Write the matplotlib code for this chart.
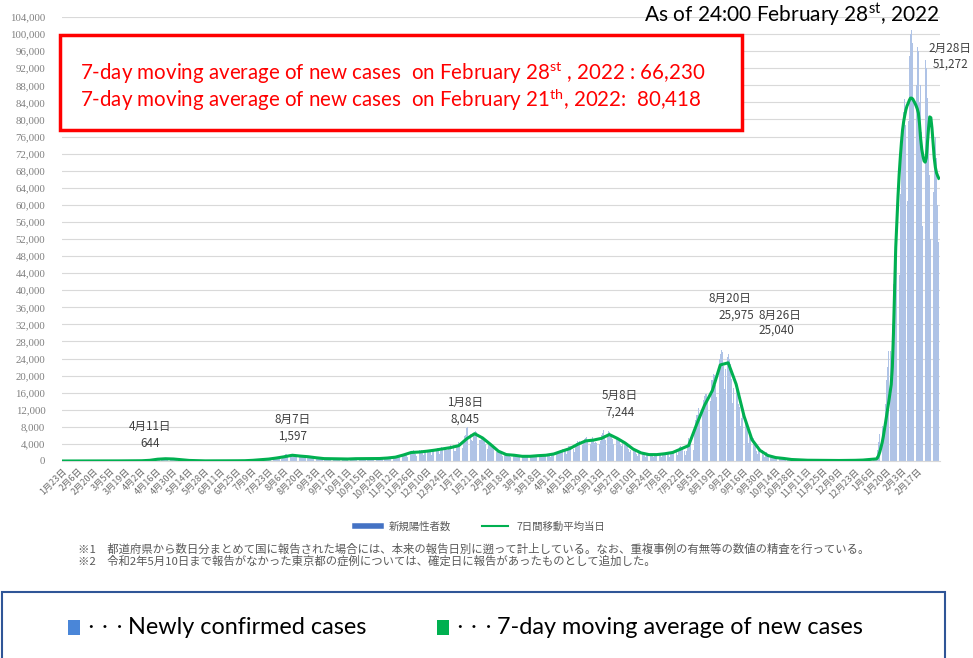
import matplotlib
matplotlib.use("Agg")
import matplotlib.pyplot as plt
import pandas as pd
from matplotlib.patches import Rectangle
from matplotlib.lines import Line2D
from matplotlib.transforms import ScaledTranslation

# daily new cases, one list per month
c2020_01 = [1, 0, 0, 0, 0, 0, 0, 1, 1, 1, 0, 1, 1, 3, 4, 2]
c2020_02 = [1, 0, 0, 0, 0, 0, 1, 1, 0, 0, 1, 1, 3, 12, 8, 5, 6, 4, 9, 6, 13, 10, 15, 11, 12, 23, 21, 13, 9]
c2020_03 = [14, 18, 14, 20, 33, 35, 59, 33, 26, 54, 52, 56, 62, 64, 24, 15, 44, 39, 40, 30, 47, 37, 40, 65, 96,
            93, 98, 194, 72, 83, 225]
c2020_04 = [220, 255, 340, 370, 380, 250, 300, 500, 560, 600, 644, 510, 390, 450, 550, 490, 610, 590, 560, 370,
            360, 410, 430, 430, 340, 240, 210, 260, 230, 210]
c2020_05 = [190, 170, 200, 120, 90, 120, 90, 90, 100, 70, 70, 80, 50, 90, 60, 70, 30, 30, 30, 30, 35, 20, 40, 30,
            15, 30, 40, 40, 35, 30, 35]
c2020_06 = [30, 40, 45, 40, 45, 50, 40, 35, 40, 40, 50, 60, 50, 70, 80, 70, 40, 40, 70, 70, 60, 40, 60, 60, 80,
            100, 95, 90, 90, 80]
c2020_07 = [110, 170, 200, 270, 250, 190, 220, 290, 360, 420, 380, 390, 290, 340, 450, 620, 660, 580, 500, 440,
            630, 800, 980, 780, 840, 840, 580, 980, 1260, 1300, 1580]
c2020_08 = [1530, 1330, 950, 1240, 1350, 1480, 1597, 1560, 1430, 1070, 720, 970, 1180, 1360, 1200, 1040, 950, 780,
            1070, 1160, 960, 1050, 880, 620, 580, 810, 850, 780, 720, 570, 430]
c2020_09 = [580, 620, 570, 630, 550, 500, 270, 370, 520, 590, 660, 590, 470, 300, 410, 580, 530, 610, 530, 430,
            220, 240, 480, 580, 550, 620, 480, 300, 570, 600]
c2020_10 = [490, 530, 560, 480, 300, 490, 570, 620, 640, 570, 430, 600, 710, 640, 530, 510, 560, 440, 530, 470,
            660, 620, 740, 770, 630, 520, 630, 790, 740, 690, 760]
c2020_11 = [600, 400, 770, 870, 1050, 1130, 1320, 1150, 960, 1200, 1550, 1660, 1710, 1730, 1430, 950, 1700, 2190,
            2390, 2420, 2590, 2160, 1530, 1230, 1850, 2530, 2390, 2680, 2040, 1430]
c2020_12 = [2030, 2430, 2520, 2440, 2510, 2030, 1520, 2040, 2810, 2970, 2780, 3040, 2390, 1690, 2400, 3200, 3030,
            2990, 2990, 2470, 2620, 3390, 3250, 3740, 3800, 3800, 2330, 2400, 3590, 3800, 4520]
c2021_01 = [3250, 3060, 3140, 4900, 5920, 6000, 7840, 8045, 7500, 6300, 4900, 4600, 5800, 6600, 7100, 6700, 5700,
            4900, 5000, 5600, 5300, 5000, 4700, 3990, 2760, 3850, 3960, 3690, 3600, 3400, 3200]
c2021_02 = [2000, 2100, 2600, 2570, 2370, 2280, 1670, 1220, 1560, 1700, 1570, 1360, 1470, 1360, 1020, 1300, 1530,
            1310, 1240, 1320, 1110, 900, 1050, 1110, 1100, 1140, 1050, 990]
c2021_03 = [860, 1050, 1280, 1250, 1160, 1060, 1060, 1140, 1340, 1300, 1320, 1480, 1360, 1000, 1040, 1360, 1380,
            1500, 1470, 1370, 1300, 980, 1400, 1900, 1920, 2020, 2080, 1780, 1570, 2310, 2570]
c2021_04 = [2480, 2750, 2870, 2450, 1580, 2650, 3450, 3450, 3450, 3700, 2770, 2100, 3450, 4310, 4570, 4530, 4800,
            4090, 3700, 4300, 5100, 5500, 5600, 5000, 4600, 4000, 4800, 5600, 4900, 4200]
c2021_05 = [4400, 4200, 4400, 4000, 4800, 6000, 6600, 7244, 6200, 4900, 6200, 7000, 6800, 6300, 6300, 5100, 4000,
            5100, 5700, 5100, 4700, 4600, 4000, 3400, 4300, 4800, 4500, 3900, 3700, 2700, 2100]
c2021_06 = [2600, 3000, 2600, 2500, 2400, 1600, 1200, 2000, 2200, 1950, 1900, 1900, 1400, 940, 1300, 1600, 1700,
            1500, 1600, 1100, 1000, 1400, 1600, 1700, 1600, 1600, 1300, 1000, 1500, 1800]
c2021_07 = [1750, 1880, 1800, 1580, 1010, 1660, 2190, 2250, 2240, 2410, 2230, 1500, 2390, 3180, 3420, 3370, 3100,
            2330, 1430, 2380, 3760, 5400, 4220, 3880, 4700, 2640, 7600, 9570, 10700, 10780, 12340]
c2021_08 = [10160, 8380, 12010, 14220, 15250, 15750, 15740, 14470, 12070, 14100, 18880, 18890, 20360, 20150, 17730,
            14940, 19910, 23890, 25150, 25975, 25490, 22200, 16830, 21560, 24300, 25040, 24000, 22760, 19300, 13600,
            17000]
c2021_09 = [20000, 16750, 16130, 13420, 12620, 8200, 10130, 12380, 10380, 9760, 8140, 7220, 4150, 6230, 6170, 5690,
            5450, 4500, 3650, 2300, 1660, 3560, 3100, 2200, 2500, 1480, 900, 1450, 2040, 1550]
c2021_10 = [1430, 1150, 1000, 620, 1140, 1070, 940, 800, 770, 610, 390, 620, 730, 630, 620, 510, 430, 250, 370, 390,
            350, 350, 310, 230, 160, 240, 270, 290, 280, 260, 160]
c2021_11 = [90, 180, 170, 180, 210, 210, 160, 100, 180, 230, 210, 200, 180, 130, 80, 130, 140, 140, 140, 140, 120,
            50, 80, 80, 90, 130, 140, 110, 80, 150]
c2021_12 = [120, 110, 130, 120, 110, 70, 80, 130, 170, 150, 140, 120, 90, 130, 170, 210, 180, 180, 190, 140, 200,
            240, 270, 290, 260, 240, 250, 380, 480, 470, 500]
c2022_01 = [530, 550, 780, 1260, 2640, 4470, 6210, 8470, 8250, 6440, 6380, 13240, 18860, 22050, 25740, 25660, 21500,
            32200, 41480, 46190, 49850, 54580, 50000, 43600, 62600, 71600, 78900, 81700, 84900, 78700, 61000]
c2022_02 = [79600, 94900, 100000, 101000, 98000, 84000, 65000, 88000, 97000, 96000, 84000, 88000, 77000, 55000,
            80000, 94000, 92000, 85000, 79000, 67000, 52000, 66000, 63000, 71000, 76000, 71000, 60000, 51272]

# 7-day moving average: weekly readings from 2020-01-16 to 2021-12-30, then daily for 2022
avg_weekly = [0, 0.3, 1, 1, 2, 8, 14, 25, 45, 40,
              60, 160, 420, 530, 470, 290, 130, 75, 30, 30,
              40, 45, 55, 70, 160, 300, 450, 700, 1000, 1350,
              1150, 1000, 760, 560, 520, 500, 470, 540, 560, 580,
              580, 700, 900, 1400, 2000, 2100, 2300, 2550, 2850, 3150,
              3600, 5200, 6400, 5400, 3900, 2300, 1500, 1350, 1100, 1100,
              1250, 1350, 1650, 2300, 2900, 3900, 4700, 4900, 5300, 6200,
              5300, 4200, 2800, 1900, 1500, 1500, 1700, 2000, 2800, 3600,
              8500, 13000, 16500, 22500, 23000, 18000, 10500, 5000, 2500, 1300,
              800, 600, 350, 260, 180, 160, 130, 110, 120, 130,
              160, 220, 370]
avg_2022_01 = [400, 420, 450, 500, 800, 1400, 2200, 3200, 4300, 5700, 7300, 9000, 10700, 12400, 14200, 16000,
               17900, 22000, 30000, 40000, 50000, 56000, 62000, 67000, 71000, 74500, 77500, 79500, 81000, 82300,
               83200]
avg_2022_02 = [83800, 84500, 85000, 85000, 84800, 84300, 83800, 83200, 82500, 81500, 79000, 75500, 73000, 71500,
               70300, 70000, 71000, 74500, 78000, 80600, 80418, 78000, 74500, 71000, 68800, 67500, 66800, 66230]

# peak labels
peak_labels = ["4月11日\n644", "8月7日\n1,597", "1月8日\n8,045", "5月8日\n7,244"]
peak_pos = [(150, 435), (293, 428), (465, 411), (620, 404)]

months = [("2020-01-16", c2020_01), ("2020-02-01", c2020_02), ("2020-03-01", c2020_03), ("2020-04-01", c2020_04),
          ("2020-05-01", c2020_05), ("2020-06-01", c2020_06), ("2020-07-01", c2020_07), ("2020-08-01", c2020_08),
          ("2020-09-01", c2020_09), ("2020-10-01", c2020_10), ("2020-11-01", c2020_11), ("2020-12-01", c2020_12),
          ("2021-01-01", c2021_01), ("2021-02-01", c2021_02), ("2021-03-01", c2021_03), ("2021-04-01", c2021_04),
          ("2021-05-01", c2021_05), ("2021-06-01", c2021_06), ("2021-07-01", c2021_07), ("2021-08-01", c2021_08),
          ("2021-09-01", c2021_09), ("2021-10-01", c2021_10), ("2021-11-01", c2021_11), ("2021-12-01", c2021_12),
          ("2022-01-01", c2022_01), ("2022-02-01", c2022_02)]

dias = []
casos = []
for inicio, vals in months:
    dias += list(pd.date_range(inicio, periods=len(vals), freq="D"))
    casos += vals

avg_dias = list(pd.date_range("2020-01-16", periods=len(avg_weekly), freq="7D"))
avg_dias += list(pd.date_range("2022-01-01", periods=len(avg_2022_01), freq="D"))
avg_dias += list(pd.date_range("2022-02-01", periods=len(avg_2022_02), freq="D"))
avg_vals = avg_weekly + avg_2022_01 + avg_2022_02

W, H = 973, 658


def px(x, y):
    return x / W, 1 - y / H


plt.rcParams["mathtext.fontset"] = "custom"
plt.rcParams["mathtext.rm"] = "Lato"
plt.rcParams["mathtext.it"] = "Lato:italic"
plt.rcParams["mathtext.bf"] = "Lato:bold"

fig = plt.figure(figsize=(W / 100, H / 100), dpi=100)
ax = fig.add_axes([62 / W, 1 - 461 / H, 878 / W, 444 / H])

ax.bar(dias, casos, width=0.8, color="#afc3e6", linewidth=0, zorder=2)
ax.plot(avg_dias, avg_vals, color="#00b050", lw=2.2, zorder=3)

ax.set_ylim(0, 104000)
yt = list(range(0, 104001, 4000))
ax.set_yticks(yt)
ax.set_yticklabels([f"{v:,}" for v in yt], family="Liberation Serif", fontsize=7.8, color="#808080")
ax.set_xlim(pd.Timestamp("2020-01-15 12:00"), pd.Timestamp("2020-01-15 12:00") + pd.Timedelta(days=775.6))
ticks = pd.date_range("2020-01-23", "2022-02-28", freq="14D")
ax.set_xticks(ticks)
ax.set_xticklabels([f"{d.month}月{d.day}日" for d in ticks], rotation=45, ha="right", rotation_mode="anchor",
                   fontsize=6.6, family="Noto Sans CJK JP", color="#6f6f6f")
ax.tick_params(axis="x", length=0, pad=4)
ax.tick_params(axis="y", length=0, pad=12)
for lab in ax.get_xticklabels():
    lab.set_transform(lab.get_transform() + ScaledTranslation(-6 / 72, 0, fig.dpi_scale_trans))
ax.grid(axis="y", color="#d9d9d9", lw=0.8)
ax.set_axisbelow(True)
for s in ["top", "right", "left"]:
    ax.spines[s].set_visible(False)
ax.spines["bottom"].set_color("#d9d9d9")

jp = {"family": "Noto Sans CJK JP", "fontsize": 8.4, "color": "#404040", "ha": "center", "va": "center",
      "linespacing": 1.4}
for lab, (x, y) in zip(peak_labels, peak_pos):
    fig.text(*px(x, y), lab, **jp)
fig.text(*px(730, 298), "8月20日", **jp)
fig.text(*px(736, 315), "25,975", **jp)
fig.text(*px(780, 315), "8月26日", **jp)
fig.text(*px(776, 330), "25,040", **jp)
fig.text(*px(950, 48), "2月28日", **jp)
fig.text(*px(951, 64), "51,272", **jp)

# in-chart legend
fig.legend(handles=[Line2D([0], [0], color="#4472c4", lw=4), Line2D([0], [0], color="#00b050", lw=1.5)],
           labels=["新規陽性者数", "7日間移動平均当日"], loc="center", bbox_to_anchor=px(480, 527), ncol=2,
           frameon=False, prop={"family": "Noto Sans CJK JP", "size": 7.5}, handlelength=2.5, columnspacing=3,
           labelcolor="#595959")

nota = {"family": "Noto Sans CJK JP", "fontsize": 8.2, "color": "#595959", "va": "center"}
fig.text(*px(78, 549), "※1　都道府県から数日分まとめて国に報告された場合には、本来の報告日別に遡って計上している。"
         "なお、重複事例の有無等の数値の精査を行っている。", **nota)
fig.text(*px(78, 561), "※2　令和2年5月10日まで報告がなかった東京都の症例については、確定日に報告があったものとして追加した。",
         **nota)

# top-right date
fig.text(*px(940, 15), r"As of 24:00 February 28$^{\mathrm{st}}$, 2022", fontsize=15, family="Lato",
         ha="right", va="center")

# red box
fig.add_artist(Rectangle(px(60, 130), 682 / W, 95 / H, transform=fig.transFigure, facecolor="white",
                         edgecolor="#ff0000", lw=2.5, zorder=5))
roja = {"fontsize": 14.8, "family": "Lato", "color": "#ff0000", "va": "center", "zorder": 6}
fig.text(*px(80, 73), r"7-day moving average of new cases  on February 28$^{\mathrm{st}}$ , 2022 : 66,230", **roja)
fig.text(*px(80, 100), r"7-day moving average of new cases  on February 21$^{\mathrm{th}}$, 2022:  80,418", **roja)

# bottom legend box
fig.add_artist(Rectangle(px(2, 670), 943 / W, 78 / H, transform=fig.transFigure, facecolor="white",
                         edgecolor="#2f5597", lw=1.5, zorder=5))
fig.add_artist(Rectangle(px(68, 635), 12 / W, 15 / H, transform=fig.transFigure, facecolor="#4a86d8",
                         lw=0, zorder=6))
fig.add_artist(Rectangle(px(437, 635), 12 / W, 15 / H, transform=fig.transFigure, facecolor="#00b050",
                         lw=0, zorder=6))
puntos = {"fontsize": 10.5, "family": "Noto Sans CJK JP", "va": "center", "zorder": 6}
leyenda = {"fontsize": 16.8, "family": "Lato", "va": "center", "zorder": 6}
fig.text(*px(83, 628), "・・・", **puntos)
fig.text(*px(128, 628), "Newly confirmed cases", **leyenda)
fig.text(*px(452, 628), "・・・", **puntos)
fig.text(*px(497, 628), "7-day moving average of new cases", **leyenda)

fig.savefig("out.png", dpi=100)
